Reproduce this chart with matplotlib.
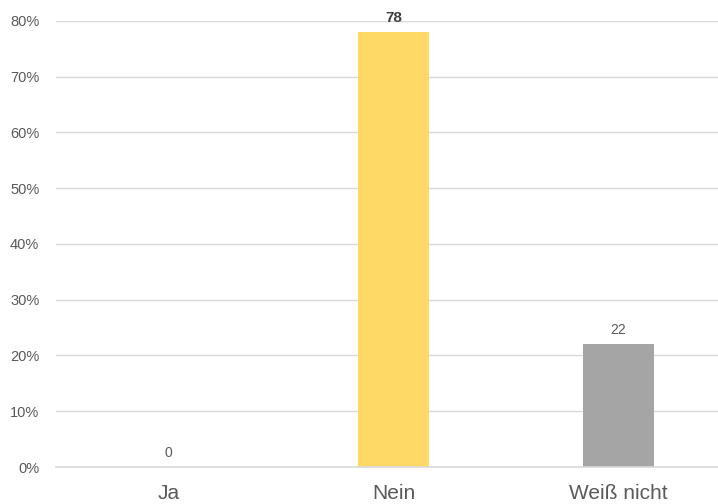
import matplotlib.pyplot as plt
from matplotlib.ticker import PercentFormatter

categories = ["Ja", "Nein", "Weiß nicht"]
values = [0, 78, 22]
colors = ["#FFD966", "#FFD966", "#A5A5A5"]
label_bold = [False, True, False]

plt.rcParams['font.family'] = ['Liberation Sans', 'DejaVu Sans']

fig = plt.figure(figsize=(7.18, 5.04), dpi=100)
ax = fig.add_axes([0.078, 0.0734, 0.94, 0.885])

x = range(len(categories))
bars = ax.bar(x, values, width=0.315, color=colors, zorder=3)

for xi, v, b in zip(x, values, label_bold):
    ax.text(xi, v + 1.3, str(v), ha='center', va='bottom',
            fontsize=11 if b else 10,
            fontweight='bold' if b else 'normal',
            color='#404040' if b else '#595959')

ax.set_xlim(-0.5, 2.5)
ax.set_ylim(0, 80)
ax.set_yticks(range(0, 81, 10))
ax.yaxis.set_major_formatter(PercentFormatter(decimals=0))
ax.set_xticks(list(x))
ax.set_xticklabels(categories, fontsize=15, color='#595959')
ax.tick_params(axis='y', labelsize=10.5, colors='#595959', length=0, pad=12)
ax.tick_params(axis='x', length=0, pad=12)

ax.grid(axis='y', color='#D9D9D9', linewidth=1, zorder=0)
ax.axhline(0, color='#D9D9D9', linewidth=1.2, zorder=4, clip_on=False)
for s in ax.spines.values():
    s.set_visible(False)

fig.savefig("out.png", dpi=100)
